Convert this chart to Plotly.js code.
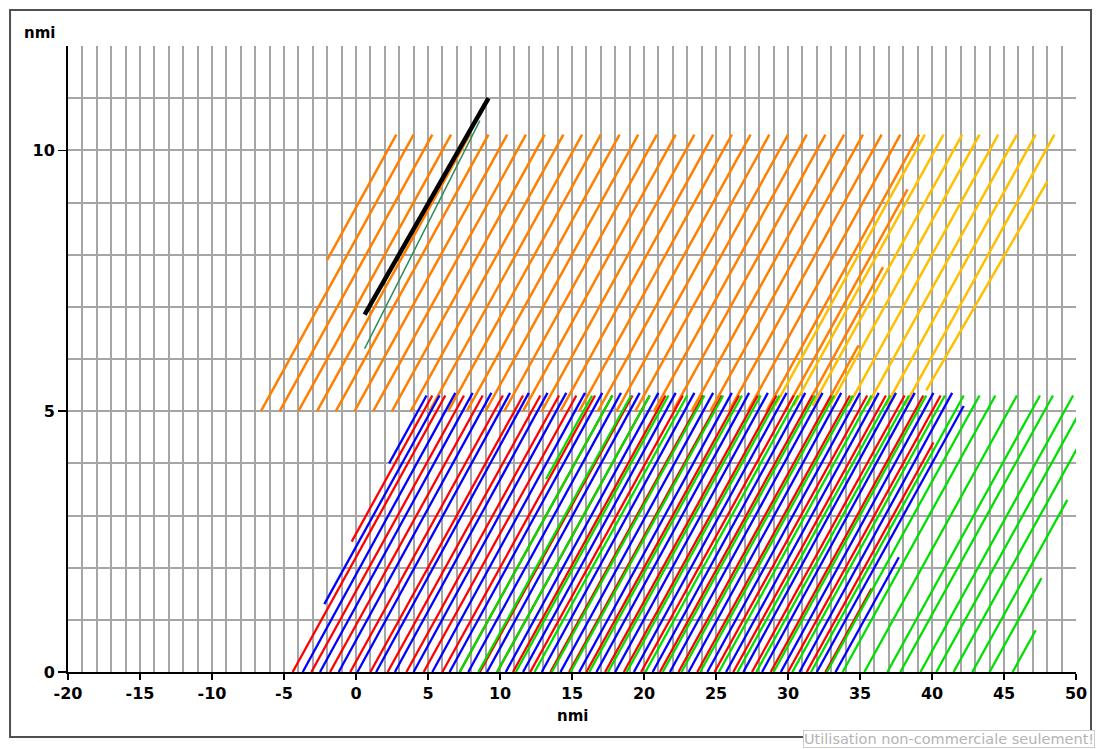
<!DOCTYPE html>
<html>
<head>
<meta charset="utf-8">
<script src="https://cdn.plot.ly/plotly-3.0.1.min.js"></script>
<style>html,body{margin:0;padding:0;background:#fff;}#chart{width:1097px;height:749px;}</style>
</head>
<body>
<div id="chart"></div>
<script>
// ---- Data (nmi), each track segment: start (x0,y0) -> end (x1,y1) ----
const red_x0 = [-4.4,-3.1,-1.8,-0.4,1.0,2.2,3.5,4.7,6.0,7.2,8.6,9.8,10.9,12.1,13.5,14.8,16.0,17.3,18.6,19.8,21.1,22.4,23.7,24.9,26.2,27.5,28.8,30.0,31.3,32.6,-0.3];
const red_y0 = [0,0,0,0,0,0,0,0,0,0,0,0,0,0,0,0,0,0,0,0,0,0,0,0,0,0,0,0,0,0,2.5];
const red_x1 = [6.2,7.5,8.8,10.2,11.6,12.8,14.1,15.3,16.6,17.8,19.2,20.4,21.5,22.7,24.1,25.4,26.6,27.9,29.2,30.4,31.7,33.0,34.3,35.5,36.8,38.1,39.4,40.6,40.1,35.8,5.3];
const red_y1 = [5.3,5.3,5.3,5.3,5.3,5.3,5.3,5.3,5.3,5.3,5.3,5.3,5.3,5.3,5.3,5.3,5.3,5.3,5.3,5.3,5.3,5.3,5.3,5.3,5.3,5.3,5.3,5.3,4.4,1.6,5.3];

const blue_x0 = [-3.7,-2.5,-1.2,0.1,1.4,2.7,4.0,5.3,6.5,7.8,9.1,10.4,11.6,12.9,14.2,15.5,16.7,18.0,19.3,20.6,21.8,23.1,24.4,25.7,26.9,28.2,29.5,30.8,32.0,33.3,-2.2,2.3];
const blue_y0 = [0,0,0,0,0,0,0,0,0,0,0,0,0,0,0,0,0,0,0,0,0,0,0,0,0,0,0,0,0,0,1.3,4.0];
const blue_x1 = [6.9,8.1,9.4,10.7,12.0,13.3,14.6,15.9,17.1,18.4,19.7,21.0,22.2,23.5,24.8,26.1,27.3,28.6,29.9,31.2,32.4,33.7,35.0,36.3,37.5,38.8,40.1,41.4,42.2,37.7,5.8,4.9];
const blue_y1 = [5.35,5.35,5.35,5.35,5.35,5.35,5.35,5.35,5.35,5.35,5.35,5.35,5.35,5.35,5.35,5.35,5.35,5.35,5.35,5.35,5.35,5.35,5.35,5.35,5.35,5.35,5.35,5.35,5.1,2.2,5.3,5.3];

const green_x0 = [7.2,8.5,9.8,11.1,12.4,13.6,14.9,16.2,17.5,18.8,20.1,21.3,22.6,23.9,25.2,26.5,27.8,29.0,30.3,31.6,32.7,33.8,35.3,36.9,37.8,39.2,40.3,41.5,42.8,44.0,45.6,13.2];
const green_y0 = [0,0,0,0,0,0,0,0,0,0,0,0,0,0,0,0,0,0,0,0,0,0,0,0,0,0,0,0,0,0,0,3.7];
const green_x1 = [17.8,19.1,20.4,21.7,23.0,24.2,25.5,26.8,28.1,29.4,30.7,31.9,33.2,34.5,35.8,37.1,38.4,39.6,40.9,42.2,43.3,44.4,45.9,47.5,48.4,49.8,50.9,52.1,49.4,47.6,47.2,16.4];
const green_y1 = [5.3,5.3,5.3,5.3,5.3,5.3,5.3,5.3,5.3,5.3,5.3,5.3,5.3,5.3,5.3,5.3,5.3,5.3,5.3,5.3,5.3,5.3,5.3,5.3,5.3,5.3,5.3,5.3,3.3,1.8,0.8,5.3];

const orange_x0 = [-6.6,-5.3,-4.0,-2.7,-1.4,-0.1,1.2,2.5,3.8,5.1,6.4,7.7,9.0,10.3,11.6,12.9,14.2,15.5,16.8,18.1,19.4,20.7,22.0,23.3,24.6,25.9,27.2,28.5,29.8,31.1,32.4,-2.0];
const orange_y0 = [5,5,5,5,5,5,5,5,5,5,5,5,5,5,5,5,5,5,5,5,5,5,5,5,5,5,5,5,5,5,5,7.9];
const orange_x1 = [4.0,5.3,6.6,7.9,9.2,10.5,11.8,13.1,14.4,15.7,17.0,18.3,19.6,20.9,22.2,23.5,24.8,26.1,27.4,28.7,30.0,31.3,32.6,33.9,35.2,36.5,37.8,39.1,38.3,36.6,34.9,2.8];
const orange_y1 = [10.3,10.3,10.3,10.3,10.3,10.3,10.3,10.3,10.3,10.3,10.3,10.3,10.3,10.3,10.3,10.3,10.3,10.3,10.3,10.3,10.3,10.3,10.3,10.3,10.3,10.3,10.3,10.3,9.25,7.76,6.26,10.3];

const yellow_x0 = [29.1,30.4,31.7,32.9,34.2,35.5,36.8,38.1,39.6];
const yellow_y0 = [5.1,5.1,5.1,5.1,5.1,5.1,5.1,5.1,5.4];
const yellow_x1 = [39.5,40.8,42.1,43.3,44.6,45.9,47.2,48.5,48.0];
const yellow_y1 = [10.3,10.3,10.3,10.3,10.3,10.3,10.3,10.3,9.4];

const teal_x = [0.6, 8.6];
const teal_y = [6.2, 10.57];
const black_x = [0.6, 9.2];
const black_y = [6.85, 11.0];

const xTickVals = [-20,-15,-10,-5,0,5,10,15,20,25,30,35,40,45,50];
const xTickText = ['-20','-15','-10','-5','0','5','10','15','20','25','30','35','40','45','50'];
const yTickVals = [0,5,10];
const yTickText = ['0','5','10'];

// ---- build traces ----
function segs(x0, y0, x1, y1) {
  const xs = [], ys = [];
  for (let i = 0; i < x0.length; i++) {
    xs.push(x0[i], x1[i], null);
    ys.push(y0[i], y1[i], null);
  }
  return {xs, ys};
}
function segTrace(x0, y0, x1, y1, color, width) {
  const s = segs(x0, y0, x1, y1);
  return {x: s.xs, y: s.ys, type: 'scatter', mode: 'lines',
          line: {color: color, width: width}, hoverinfo: 'skip', showlegend: false};
}

const traces = [
  segTrace(yellow_x0, yellow_y0, yellow_x1, yellow_y1, '#FFC000', 2.5),
  segTrace(orange_x0, orange_y0, orange_x1, orange_y1, '#FF7F00', 2.5),
  segTrace(red_x0, red_y0, red_x1, red_y1, '#FF0000', 2.3),
  segTrace(green_x0, green_y0, green_x1, green_y1, '#00E000', 2.3),
  segTrace(blue_x0, blue_y0, blue_x1, blue_y1, '#0000FF', 2.3),
  {x: teal_x, y: teal_y, type: 'scatter', mode: 'lines', line: {color: '#2E8B57', width: 1.5}, hoverinfo: 'skip', showlegend: false},
  {x: black_x, y: black_y, type: 'scatter', mode: 'lines', line: {color: '#000000', width: 4.5}, hoverinfo: 'skip', showlegend: false}
];

const tickFont = {family: 'DejaVu Sans, Verdana, sans-serif', size: 16, color: '#000', weight: 'bold'};
const gridCol = '#a6a6a6';

const layout = {
  width: 1097, height: 749,
  margin: {l: 68, r: 21, t: 46, b: 77},
  paper_bgcolor: '#ffffff', plot_bgcolor: '#ffffff',
  showlegend: false,
  xaxis: {
    range: [-20, 50], tickmode: 'array', tickvals: xTickVals, ticktext: xTickText,
    ticks: 'outside', ticklen: 6, tickwidth: 1.5, tickcolor: '#000',
    showline: true, linecolor: '#000', linewidth: 2, zeroline: false,
    showgrid: true, gridcolor: gridCol, gridwidth: 2,
    minor: {dtick: 1, tick0: 0, showgrid: true, gridcolor: gridCol, gridwidth: 2, ticks: ''},
    tickfont: tickFont, fixedrange: true
  },
  yaxis: {
    range: [0, 12], tickmode: 'array', tickvals: yTickVals, ticktext: yTickText,
    ticks: 'outside', ticklen: 8, tickwidth: 1.5, tickcolor: '#000',
    showline: true, linecolor: '#000', linewidth: 2, zeroline: false,
    showgrid: true, gridcolor: gridCol, gridwidth: 2,
    minor: {dtick: 1, tick0: 0, showgrid: true, gridcolor: gridCol, gridwidth: 2, ticks: ''},
    tickfont: tickFont, fixedrange: true
  },
  annotations: [
    {text: 'nmi', xref: 'paper', yref: 'paper', x: -0.0278, y: 1.0208, xanchor: 'center', yanchor: 'middle',
     showarrow: false, font: {family: 'DejaVu Sans, Verdana, sans-serif', size: 15, color: '#000', weight: 'bold'}},
    {text: 'nmi', xref: 'paper', yref: 'paper', x: 0.5, y: -0.0703, xanchor: 'center', yanchor: 'middle',
     showarrow: false, font: {family: 'DejaVu Sans, Verdana, sans-serif', size: 15, color: '#000', weight: 'bold'}},
    {text: 'Utilisation non-commerciale seulement!', xref: 'paper', yref: 'paper', x: 1.0188, y: -0.1214,
     xanchor: 'right', yanchor: 'bottom', showarrow: false, bgcolor: '#ffffff', bordercolor: '#cccccc', borderwidth: 1, borderpad: 0,
     font: {family: 'DejaVu Sans, Verdana, sans-serif', size: 14.5, color: '#b4b4b4'}}
  ],
  shapes: [
    {type: 'rect', xref: 'paper', yref: 'paper', x0: -0.0575, x1: 1.0149, y0: -0.1038, y1: 1.0575,
     line: {color: '#505050', width: 2}, fillcolor: 'rgba(0,0,0,0)', layer: 'below'}
  ]
};

Plotly.newPlot('chart', traces, layout, {staticPlot: true, displayModeBar: false});
</script>
</body>
</html>
